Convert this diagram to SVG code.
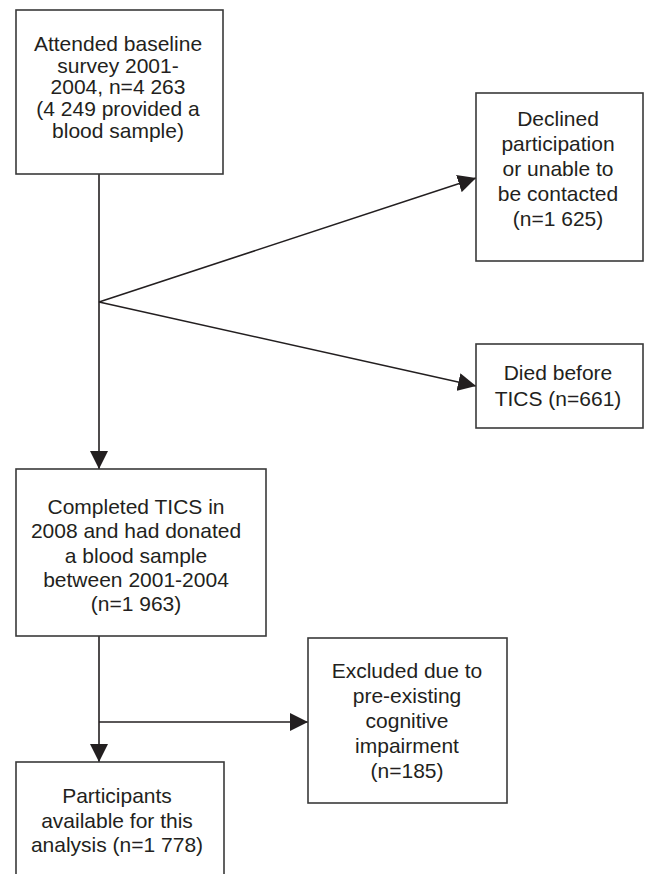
<svg xmlns="http://www.w3.org/2000/svg" width="647" height="874" viewBox="0 0 647 874">
<style>
.box{fill:#fff;stroke:#3a3a3a;stroke-width:1.6}
.t{font-family:"Liberation Sans",Arial,Helvetica,sans-serif;font-size:21px;fill:#231f20;text-anchor:middle}
.c{fill:none;stroke:#231f20;stroke-width:1.6}
</style>
<defs>
<marker id="ah" markerUnits="userSpaceOnUse" markerWidth="18" markerHeight="18" refX="18" refY="9" orient="auto" viewBox="0 0 18 18">
<path d="M0,0 L18,9 L0,18 Z" fill="#231f20"/>
</marker>
</defs>
<rect width="647" height="874" fill="#fff"/>
<g id="connectors">
<line class="c" x1="99" y1="174" x2="99" y2="469" marker-end="url(#ah)"/>
<line class="c" x1="99" y1="302" x2="476" y2="178" marker-end="url(#ah)"/>
<line class="c" x1="99" y1="302" x2="476" y2="386" marker-end="url(#ah)"/>
<line class="c" x1="99" y1="636" x2="99" y2="762" marker-end="url(#ah)"/>
<line class="c" x1="99" y1="722" x2="308" y2="722" marker-end="url(#ah)"/>
</g>
<g id="baseline">
<rect class="box" x="16" y="10" width="207" height="164"/>
<text class="t" x="118" y="51">Attended baseline</text>
<text class="t" x="118" y="72.7">survey 2001-</text>
<text class="t" x="118" y="94.4">2004, n=4 263</text>
<text class="t" x="118" y="116.1">(4 249 provided a</text>
<text class="t" x="118" y="137.8">blood sample)</text>
</g>
<g id="declined">
<rect class="box" x="476" y="93" width="167" height="168"/>
<text class="t" x="558" y="126">Declined</text>
<text class="t" x="558" y="151">participation</text>
<text class="t" x="558" y="176">or unable to</text>
<text class="t" x="558" y="201">be contacted</text>
<text class="t" x="558" y="226">(n=1 625)</text>
</g>
<g id="died">
<rect class="box" x="476" y="344" width="167" height="84"/>
<text class="t" x="558" y="380">Died before</text>
<text class="t" x="558" y="405.5">TICS (n=661)</text>
</g>
<g id="completed">
<rect class="box" x="16" y="469" width="250" height="167"/>
<text class="t" x="136" y="514">Completed TICS in</text>
<text class="t" x="136" y="538.3">2008 and had donated</text>
<text class="t" x="136" y="562.6">a blood sample</text>
<text class="t" x="136" y="586.9">between 2001-2004</text>
<text class="t" x="136" y="611.2">(n=1 963)</text>
</g>
<g id="excluded">
<rect class="box" x="308" y="638" width="199" height="165"/>
<text class="t" x="407" y="677.5">Excluded due to</text>
<text class="t" x="407" y="702.5">pre-existing</text>
<text class="t" x="407" y="727.5">cognitive</text>
<text class="t" x="407" y="752.5">impairment</text>
<text class="t" x="407" y="777.5">(n=185)</text>
</g>
<g id="participants">
<rect class="box" x="16" y="762" width="208" height="130"/>
<text class="t" x="117" y="803">Participants</text>
<text class="t" x="117" y="827.5">available for this</text>
<text class="t" x="117" y="852">analysis (n=1 778)</text>
</g>
</svg>
